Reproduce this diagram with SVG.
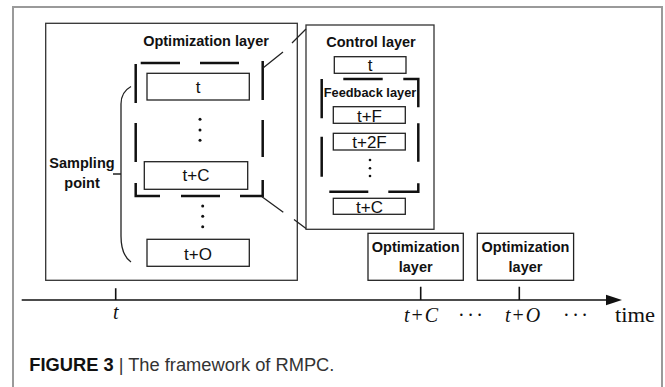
<svg xmlns="http://www.w3.org/2000/svg" width="665" height="387" viewBox="0 0 665 387">
  <style>
    .frame { fill: none; stroke: #9a9a9a; stroke-width: 2; }
    .panel { fill: #fff; stroke: #333; stroke-width: 1.3; }
    .box { fill: #fff; stroke: #222; stroke-width: 1.3; }
    .dash { fill: none; stroke: #111; stroke-width: 2.5; }
    .thin { fill: none; stroke: #222; stroke-width: 1.3; }
    .axis { fill: none; stroke: #111; stroke-width: 1.6; }
    .title { font-family: "Liberation Sans", Arial, sans-serif; font-weight: bold; font-size: 14.5px; fill: #111; text-anchor: middle; }
    .small { font-size: 12.8px; }
    .lbl { font-family: "Liberation Sans", Arial, sans-serif; font-size: 17px; fill: #111; text-anchor: middle; }
    .math { font-family: "Liberation Serif", "Times New Roman", serif; font-size: 20px; fill: #111; }
    .it { font-style: italic; }
    .dot { fill: #111; }
  </style>

  <!-- figure frame (open at the bottom) -->
  <path class="frame" d="M13,387 V7 H662 V387"/>

  <!-- optimization layer panel -->
  <g id="optimization-panel">
    <rect class="panel" x="45.7" y="23.3" width="251.6" height="257"/>
    <text class="title" x="206" y="46">Optimization layer</text>
    <!-- dashed sampling window -->
    <path class="dash" d="M140.7,63 H180 M200,63 H239 M135.7,64 V103 M135.7,123 V162 M135.7,183 V196 H160 M181,196 H220 M240,196 H262.7 V180 M262.7,61 V100 M262.7,120 V157"/>
    <g id="opt-t">
      <rect class="box" x="147" y="73.3" width="102.3" height="26.7"/>
      <text class="lbl" x="198" y="93">t</text>
    </g>
    <circle class="dot" cx="200" cy="119.3" r="1.5"/>
    <circle class="dot" cx="200" cy="130" r="1.5"/>
    <circle class="dot" cx="200" cy="140.3" r="1.5"/>
    <g id="opt-tC">
      <rect class="box" x="144.3" y="161.7" width="103.4" height="27.6"/>
      <text class="lbl" x="196" y="181">t+C</text>
    </g>
    <circle class="dot" cx="202.7" cy="206" r="1.5"/>
    <circle class="dot" cx="202.7" cy="216.3" r="1.5"/>
    <circle class="dot" cx="202.7" cy="226.7" r="1.5"/>
    <g id="opt-tO">
      <rect class="box" x="147" y="239.3" width="102.3" height="27"/>
      <text class="lbl" x="198" y="260">t+O</text>
    </g>
    <!-- sampling-point brace -->
    <path class="thin" d="M131,86.5 Q121,92 121,104 V236 Q121,255 131,262 M113,174 H121"/>
    <text class="title" x="82" y="168">Sampling</text>
    <text class="title" x="82" y="188">point</text>
  </g>

  <!-- control layer panel -->
  <g id="control-panel">
    <rect class="panel" x="306" y="25" width="128" height="204.3"/>
    <text class="title" x="371" y="47">Control layer</text>
    <g id="ctl-t">
      <rect class="box" x="334.3" y="56.7" width="71.7" height="16.6"/>
      <text class="lbl" x="370" y="71">t</text>
    </g>
    <!-- dashed feedback window -->
    <path class="dash" d="M343.3,79 H382.7 M403.3,79 H418.3 V107.3 M321.7,79 V118.3 M321.7,136.7 V176.7 M418.3,123.3 V161.7 M329.3,191.7 H368.3 M388.3,191.7 H418.3 V183.3"/>
    <text class="title small" x="370" y="96.5">Feedback layer</text>
    <g id="ctl-tF">
      <rect class="box" x="333.3" y="106.7" width="72" height="16.6"/>
      <text class="lbl" x="369.5" y="121.8">t+F</text>
    </g>
    <g id="ctl-t2F">
      <rect class="box" x="333.3" y="133.3" width="72" height="16.7"/>
      <text class="lbl" x="369.5" y="148.4">t+2F</text>
    </g>
    <circle class="dot" cx="370" cy="160" r="1.3"/>
    <circle class="dot" cx="370" cy="168.3" r="1.3"/>
    <circle class="dot" cx="370" cy="176" r="1.3"/>
    <g id="ctl-tC">
      <rect class="box" x="333.3" y="198.3" width="72" height="16"/>
      <text class="lbl" x="369.5" y="212.8">t+C</text>
    </g>
  </g>

  <!-- later optimization layers on the time axis -->
  <g id="opt-layer-C">
    <rect class="box" x="368" y="233.3" width="95.3" height="47"/>
    <text class="title" x="415.7" y="251.7">Optimization</text>
    <text class="title" x="415.7" y="271.7">layer</text>
  </g>
  <g id="opt-layer-O">
    <rect class="box" x="477.3" y="233.3" width="96.3" height="47"/>
    <text class="title" x="525.5" y="251.7">Optimization</text>
    <text class="title" x="525.5" y="271.7">layer</text>
  </g>

  <!-- zoom connectors and time axis -->
  <g id="connectors">
    <path class="thin" d="M263,68 L283,52 M292,43 L306,29"/>
    <path class="thin" d="M262,196.7 L283.3,212.3 M294,219.5 L306,228.5"/>
    <path class="axis" d="M21.7,300 H608"/>
    <polygon points="606,294.7 622,300 606,305.3" fill="#111"/>
    <path class="axis" d="M115.7,288.3 V300 M420.7,286.7 V300 M519.3,286.7 V300"/>
  </g>

  <!-- axis labels -->
  <g id="axis-labels">
    <text class="math it" x="115.7" y="319" text-anchor="middle">t</text>
    <text class="math" x="404" y="321.7"><tspan class="it">t</tspan><tspan dx="2">+</tspan><tspan class="it" dx="2">C</tspan></text>
    <text class="math" x="458" y="322" font-size="24" textLength="25" lengthAdjust="spacing">···</text>
    <text class="math" x="505" y="321.7"><tspan class="it">t</tspan><tspan dx="2">+</tspan><tspan class="it" dx="2">O</tspan></text>
    <text class="math" x="563" y="322" font-size="24" textLength="25" lengthAdjust="spacing">···</text>
    <text class="math" x="615" y="321.7" font-size="21" textLength="40" lengthAdjust="spacingAndGlyphs">time</text>
  </g>

  <!-- caption -->
  <text x="29.3" y="371" font-family="Liberation Sans, Arial, Helvetica, sans-serif" font-size="18.3" fill="#333"><tspan font-weight="bold" fill="#111">FIGURE 3</tspan> | The framework of RMPC.</text>
</svg>
